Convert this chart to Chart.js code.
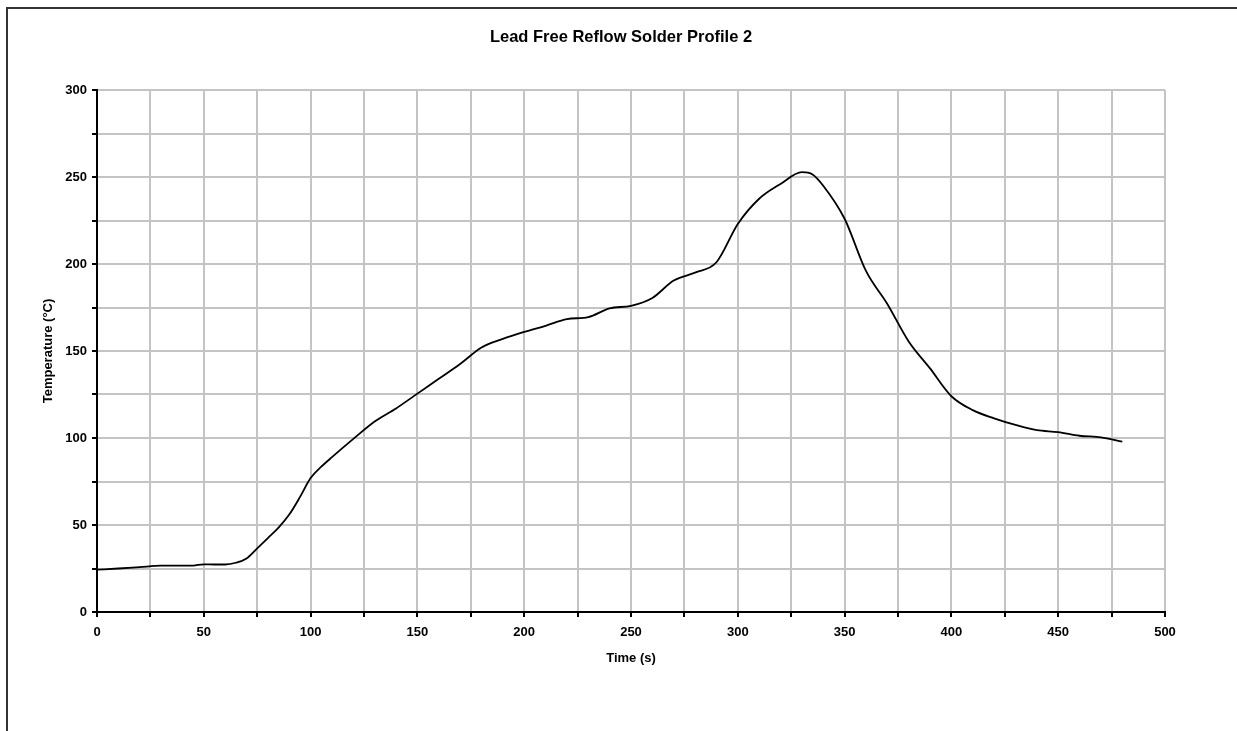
<!DOCTYPE html>
<html>
<head>
<meta charset="utf-8">
<script src="https://cdn.jsdelivr.net/npm/chart.js@4/dist/chart.umd.min.js"></script>
<style>
  html, body { margin: 0; padding: 0; background: #fff; }
  #wrap { position: relative; width: 1237px; height: 731px; overflow: hidden; }
  #frame { position: absolute; left: 6px; top: 7px; width: 1400px; height: 900px;
           border-top: 2px solid #333; border-left: 2px solid #333; box-sizing: border-box; }
  canvas { position: absolute; left: 0; top: 0; }
</style>
</head>
<body>
<div id="wrap">
  <div id="frame"></div>
  <canvas id="c" width="1237" height="731"></canvas>
</div>
<script>
const chartTitle = "Lead Free Reflow Solder Profile 2";
const xAxisTitle = "Time (s)";
const yAxisTitle = "Temperature (°C)";

const timeSeconds = [0, 10, 20, 30, 40, 45, 50, 55, 60, 65, 70, 75, 80, 85, 90, 95, 100, 105, 110,
  120, 130, 140, 150, 160, 170, 180, 190, 200, 210, 220, 230, 240, 250, 260, 270, 280, 290, 300,
  310, 320, 330, 335, 340, 350, 360, 370, 380, 390, 400, 410, 420, 430, 440, 450, 460, 470, 480];
const temperatureC = [24.3, 25.0, 25.8, 26.6, 26.6, 26.7, 27.4, 27.3, 27.3, 28.3, 30.8, 36.6, 42.5, 48.5, 56, 66, 77, 83.5, 89,
  99.5, 109.5, 117, 125.5, 134, 142.5, 152, 157, 161, 164.5, 168.3, 169.5, 174.5, 176, 180.5, 190.5, 195, 201, 223,
  237.5, 246, 252.8, 251.5, 245, 226, 196, 177, 155.5, 140, 124, 116, 111.3, 107.5, 104.5, 103.4, 101.3, 100.4, 97.9];

const xTickMin = 0, xTickMax = 500, xTickStep = 25, xLabelStep = 50;
const yTickMin = 0, yTickMax = 300, yTickStep = 25, yLabelStep = 50;

const points = timeSeconds.map((t, i) => ({ x: t, y: temperatureC[i] }));
const FONT = "'Liberation Sans', Arial, Helvetica, sans-serif";

new Chart(document.getElementById('c'), {
  type: 'line',
  data: {
    datasets: [{
      data: points,
      yAxisID: 'y',
      borderColor: '#000',
      borderWidth: 1.8,
      pointRadius: 0,
      fill: false,
      cubicInterpolationMode: 'monotone'
    }]
  },
  options: {
    responsive: false,
    animation: false,
    layout: { padding: { left: 5, right: 0, top: 0, bottom: 0 } },
    plugins: {
      legend: { display: false },
      tooltip: { enabled: false },
      title: {
        display: true,
        text: chartTitle,
        color: '#000',
        font: { family: FONT, size: 16.5, weight: 'bold' },
        padding: { top: 27.5, bottom: 42.7 }
      }
    },
    scales: {
      x: {
        type: 'linear',
        min: xTickMin, max: xTickMax,
        afterFit: (s) => { s.height = 119; },
        ticks: {
          stepSize: xTickStep,
          autoSkip: false,
          maxRotation: 0,
          padding: 8,
          color: '#000',
          font: { family: FONT, size: 13, weight: 'bold' },
          callback: (v) => (v % xLabelStep === 0 ? String(v) : '')
        },
        grid: { color: '#c4c4c4', lineWidth: 2, tickColor: '#000', tickWidth: 2, tickLength: 5 },
        border: { color: '#000', width: 2 },
        title: {
          display: true, text: xAxisTitle, color: '#000',
          font: { family: FONT, size: 13, weight: 'bold' },
          padding: { top: 0, bottom: 65 }
        }
      },
      y: {
        type: 'linear',
        position: 'left',
        min: yTickMin, max: yTickMax,
        afterFit: (s) => { s.width = 92; },
        ticks: {
          stepSize: yTickStep,
          autoSkip: false,
          padding: 5,
          color: '#000',
          font: { family: FONT, size: 13, weight: 'bold' },
          callback: (v) => (v % yLabelStep === 0 ? String(v) : '')
        },
        grid: { color: '#c4c4c4', lineWidth: 2, tickColor: '#000', tickWidth: 2, tickLength: 5 },
        border: { color: '#000', width: 2 },
        title: {
          display: true, text: yAxisTitle, color: '#000',
          font: { family: FONT, size: 13, weight: 'bold' },
          padding: { top: 36, bottom: 0 }
        }
      },
      yRightSpace: {
        type: 'linear',
        position: 'right',
        display: true,
        min: yTickMin, max: yTickMax,
        afterFit: (s) => { s.width = 72; },
        ticks: { display: false },
        grid: { display: false, drawTicks: false },
        border: { display: false }
      }
    }
  }
});
</script>
</body>
</html>
